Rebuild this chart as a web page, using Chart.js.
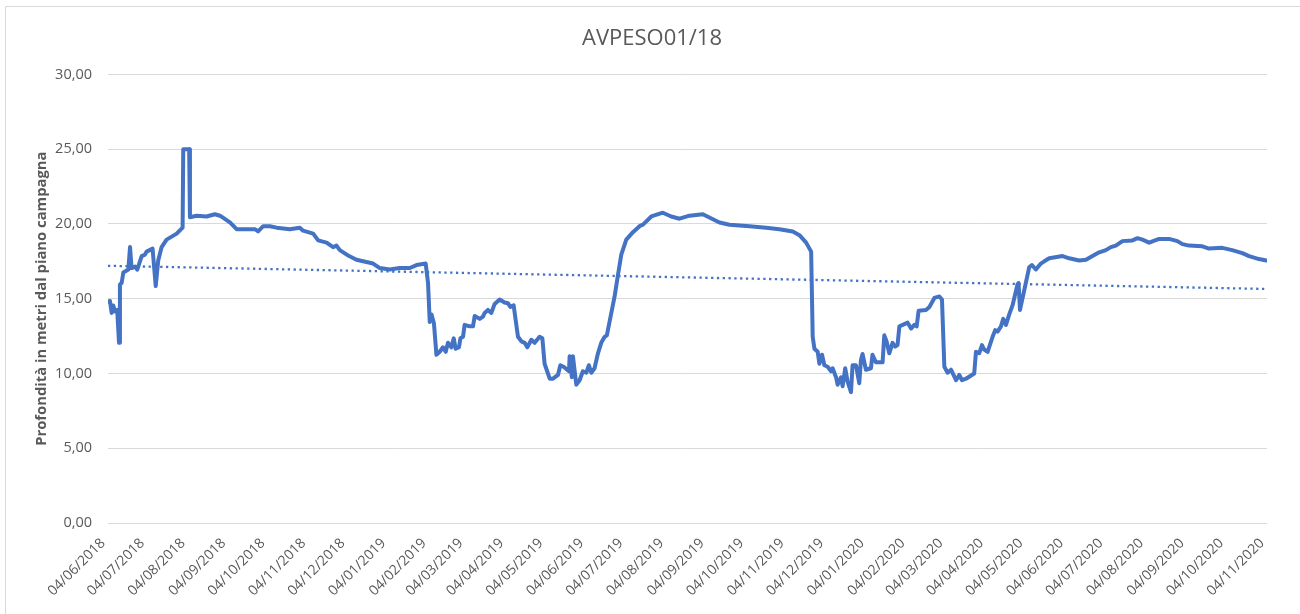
<!DOCTYPE html>
<html>
<head>
<meta charset="utf-8">
<script src="https://cdn.jsdelivr.net/npm/chart.js@4.4.1/dist/chart.umd.min.js"></script>
<style>
html,body{margin:0;padding:0;background:#fff;}
canvas{display:block;}
</style>
</head>
<body>
<canvas id="c" width="1300" height="614"></canvas>
<script>
const chartTitle = "AVPESO01/18";
const yAxisTitle = "Profondità in metri dal piano campagna";
const startDate = "04/06/2018";
const tickLabels = ["04/06/2018","04/07/2018","04/08/2018","04/09/2018","04/10/2018","04/11/2018","04/12/2018",
  "04/01/2019","04/02/2019","04/03/2019","04/04/2019","04/05/2019","04/06/2019","04/07/2019","04/08/2019",
  "04/09/2019","04/10/2019","04/11/2019","04/12/2019","04/01/2020","04/02/2020","04/03/2020","04/04/2020",
  "04/05/2020","04/06/2020","04/07/2020","04/08/2020","04/09/2020","04/10/2020","04/11/2020"];
const yTicks = [0,5,10,15,20,25,30];
// days since 04/06/2018
const days = [0,1.5,2.8,4,5.3,7,8.4,9.1,10.4,11.7,15.5,16.8,18,20.6,22.3,25.7,28.2,29.5,34,36.4,38.3,40.9,44.7,52.4,56.9,57.4,61.9,62.5,67.6,75.2,81.5,85.4,93,98.1,103.1,112,114.5,118.4,123.5,128.6,138.7,146.3,148.8,156.5,160.3,166.7,171.7,174.3,176.8,183.9,189.5,202.2,207.3,214.9,222.5,230.2,235.3,242.3,244.1,245.4,246.7,248.6,250.5,253,255.5,257.6,259.3,261.9,263.7,265.2,267.7,268.8,270.8,272,275.9,278.4,279.7,283.5,286,287.3,289.8,292.4,294.9,298.7,302.5,305,306.9,309.4,312.7,315.3,317.8,319.8,322.9,325.4,329.2,331.3,333,336.9,339.4,343.2,345,347.5,351.6,352.1,353.8,354.6,357.2,359.7,362.2,364.8,366.8,368.6,371.1,373.7,376.2,378.8,380.5,383.9,386.4,388.9,391.5,395.3,400.4,405.4,408,414.4,423.2,429.6,435.9,443.5,453.7,466.4,474,489.3,502,512.1,522.3,527.4,532.5,536.3,537.5,538.8,541.3,542.6,544.6,546.4,548.9,551.5,552.7,555.3,556.5,559.1,560.3,562.3,564.1,566.7,567.9,570.5,573,574.3,575.5,578.1,581.9,583.1,585.7,590.8,592.1,593.8,595.9,598.4,600.4,602.2,603.6,607.4,609.9,612.5,615,616.8,618.3,623.9,626.5,630.3,634.1,636.1,637.9,640.4,643,646.8,649.3,651.4,654.4,660.7,662,664.5,666.6,668.3,670.9,674.7,676.7,678.5,681.1,682.8,684.9,687.4,689.9,693.7,694.5,695.6,698.8,702.6,704.7,707.7,711.5,714.1,717.9,728.1,733.1,740.8,745.9,750.9,756,761.1,764.9,768.7,773.7,781.4,785.2,789,794.1,801.7,809.3,815.7,819.5,824.5,834.7,839.8,849.9,857.5,865.2,870.3,877.9,883.5];
const depth = [14.8,14.85,14.05,14.55,14.15,14.25,12.05,15.95,16.05,16.75,16.95,18.45,17.05,17.15,16.95,17.85,17.95,18.15,18.35,15.85,17.55,18.45,18.95,19.35,19.75,25.0,25.0,20.45,20.55,20.5,20.65,20.55,20.1,19.65,19.65,19.65,19.5,19.85,19.85,19.75,19.65,19.75,19.55,19.35,18.9,18.75,18.45,18.55,18.25,17.85,17.6,17.35,17.05,16.95,17.05,17.05,17.25,17.35,16.05,13.45,13.95,13.35,11.25,11.45,11.75,11.45,12.05,11.75,12.35,11.65,11.75,12.35,12.45,13.25,13.15,13.15,13.85,13.65,13.8,14.05,14.25,14.05,14.65,14.95,14.75,14.7,14.45,14.55,12.45,12.15,12.05,11.75,12.25,12.05,12.45,12.35,10.65,9.65,9.65,9.9,10.55,10.45,10.15,11.15,9.75,11.15,9.25,9.55,10.15,10.05,10.55,10.05,10.35,11.35,12.05,12.45,12.55,14.05,15.15,16.55,17.95,18.95,19.45,19.85,19.95,20.5,20.75,20.5,20.35,20.55,20.65,20.1,19.95,19.85,19.75,19.65,19.5,19.25,18.75,18.15,12.45,11.65,11.45,10.65,11.25,10.55,10.45,10.15,10.35,9.75,9.25,9.75,9.15,10.35,9.45,8.75,10.55,10.55,9.35,10.9,11.3,10.25,10.35,11.25,10.75,10.75,12.55,12.15,11.35,12.05,11.8,11.9,13.15,13.3,13.4,13.0,13.25,13.15,14.2,14.25,14.45,15.05,15.15,14.95,10.45,10.05,10.25,9.55,9.9,9.55,9.65,10.0,11.45,11.35,11.9,11.6,11.45,12.45,12.9,12.8,13.15,13.65,13.25,13.95,14.55,15.95,16.05,14.25,15.55,17.1,17.25,16.95,17.35,17.5,17.7,17.85,17.7,17.55,17.6,17.85,18.1,18.25,18.45,18.55,18.85,18.9,19.05,18.95,18.75,19.0,19.0,18.85,18.65,18.55,18.5,18.35,18.4,18.25,18.05,17.85,17.65,17.55];
const trendDays = [0, 884];
const trendDepth = [17.2, 15.65];

const TXT = '#595959';
const FONT = "'Open Sans', 'DejaVu Sans', sans-serif";
function parseD(s){const p=s.split('/');return Date.UTC(+p[2],+p[1]-1,+p[0]);}
const t0 = parseD(startDate);
const tickDays = tickLabels.map(s => Math.round((parseD(s)-t0)/86400000));

const frame = {
  id:'frame',
  afterLayout(chart){
    const tb = chart.titleBlock;
    if (tb) { tb.left += 37; tb.width = tb.right - tb.left; }
  },
  beforeDraw(chart){
    const ctx=chart.ctx; ctx.save();
    ctx.fillStyle='#fff'; ctx.fillRect(0,0,chart.width,chart.height);
    ctx.strokeStyle='#D9D9D9'; ctx.lineWidth=1;
    ctx.beginPath(); ctx.moveTo(5.5,chart.height); ctx.lineTo(5.5,6.5); ctx.lineTo(chart.width,6.5); ctx.stroke();
    ctx.restore();
  }
};

new Chart(document.getElementById('c'), {
  type:'line',
  data:{
    datasets:[
      {label:'Profondità', data: days.map((d,i)=>({x:d,y:depth[i]})), borderColor:'#4472C4', borderWidth:4,
       pointRadius:0, tension:0, borderJoinStyle:'round', borderCapStyle:'round', order:1},
      {label:'Tendenza', data: trendDays.map((d,i)=>({x:d,y:trendDepth[i]})), borderColor:'#4472C4', borderWidth:2.3,
       borderDash:[2.3,3.5], pointRadius:0, tension:0, order:2}
    ]
  },
  options:{
    responsive:false, animation:false, devicePixelRatio:1,
    layout:{padding:{left:0,right:33,top:0,bottom:0}},
    plugins:{
      legend:{display:false}, tooltip:{enabled:false},
      title:{display:true, text:chartTitle, color:TXT, font:{family:FONT,size:22,weight:'normal'}, padding:{top:26,bottom:22}}
    },
    scales:{
      x:{type:'linear', min:0, max:884,
        grid:{display:false, drawTicks:false}, border:{display:false},
        afterBuildTicks(s){ s.ticks = tickDays.map(v=>({value:v})); },
        afterFit(s){ s.height = 91; },
        ticks:{autoSkip:false, minRotation:45, maxRotation:45, color:TXT, padding:12, labelOffset:-5,
          font:{family:FONT,size:14},
          callback:(v,i)=>tickLabels[i]}
      },
      y:{min:0,max:30,
        afterBuildTicks(s){ s.ticks = yTicks.map(v=>({value:v})); },
        afterFit(s){ s.width = 108; },
        grid:{color:'#D9D9D9', drawTicks:false, lineWidth:1}, border:{display:false},
        ticks:{color:TXT, padding:16, font:{family:FONT,size:14.5},
          callback:v=>v.toFixed(2).replace('.',',')},
        title:{display:true, text:yAxisTitle, color:TXT, font:{family:FONT,size:14.8,weight:'bold'}, padding:{top:33,bottom:0}}
      }
    }
  },
  plugins:[frame]
});
</script>
</body>
</html>
